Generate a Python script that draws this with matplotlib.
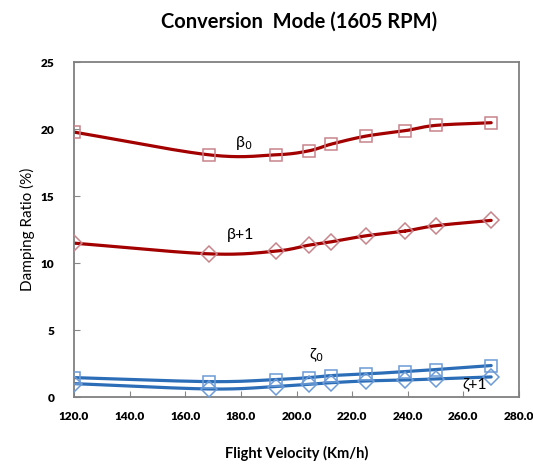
import numpy as np
import matplotlib
matplotlib.use('Agg')
import matplotlib.pyplot as plt

plt.rcParams['font.family'] = ['Lato', 'DejaVu Sans']

# flight velocity (km/h) at each analysis point
velocity = [120, 168.5, 192.5, 204.5, 212.5, 225, 239, 250, 270]

beta0 = [19.8, 18.1, 18.1, 18.4, 18.9, 19.5, 19.9, 20.3, 20.5]
beta1 = [11.5, 10.7, 10.9, 11.35, 11.6, 12.05, 12.4, 12.8, 13.2]
zeta0 = [1.45, 1.15, 1.3, 1.45, 1.6, 1.72, 1.9, 2.05, 2.35]
zeta1 = [1.0, 0.6, 0.78, 0.95, 1.07, 1.2, 1.27, 1.35, 1.5]

xticks = [120, 140, 160, 180, 200, 220, 240, 260, 280]
yticks = [0, 5, 10, 15, 20, 25]


def smooth(x, y, n=30):
    # catmull-rom through the points, like a spreadsheet "smoothed line"
    sx, sy = 160.0, 25.0
    p = np.column_stack([np.asarray(x) / sx, np.asarray(y) / sy])
    p = np.vstack([2 * p[0] - p[1], p, 2 * p[-1] - p[-2]])
    out = []
    for i in range(1, len(p) - 2):
        p0, p1, p2, p3 = p[i - 1], p[i], p[i + 1], p[i + 2]
        t = np.linspace(0, 1, n)[:, None]
        seg = 0.5 * ((2 * p1) + (-p0 + p2) * t
                     + (2 * p0 - 5 * p1 + 4 * p2 - p3) * t ** 2
                     + (-p0 + 3 * p1 - 3 * p2 + p3) * t ** 3)
        out.append(seg)
    out = np.vstack(out)
    return out[:, 0] * sx, out[:, 1] * sy


fig = plt.figure(figsize=(5.33, 4.65), dpi=100)
ax = fig.add_axes([74 / 533, 1 - 397 / 465, 445 / 533, 334.5 / 465])

red_line, red_mark = '#A30000', '#C8848C'
blue_line, blue_mark = '#2C6DB8', '#6C9BD6'

series = [
    (beta0, red_line, red_mark, 's'),
    (beta1, red_line, red_mark, 'D'),
    (zeta0, blue_line, blue_mark, 's'),
    (zeta1, blue_line, blue_mark, 'D'),
]
for vals, lc, mc, mk in series:
    sx, sy = smooth(velocity, vals)
    ax.plot(sx, sy, color=lc, lw=2.3, solid_capstyle='round', zorder=2)
    ax.plot(velocity, vals, ls='none', marker=mk, ms=8.5 if mk == 's' else 8,
            mfc='none', mec=mc, mew=1.1, zorder=3)

ax.text(181, 19.0, r'β$_0$', fontsize=11.5, ha='center', va='center')
ax.text(180, 12.1, 'β+1', fontsize=11.5, ha='center', va='center')
ax.text(207, 3.15, r'ζ$_0$', fontsize=11.5, ha='center', va='center')
ax.text(264, 0.95, 'ζ+1', fontsize=11.5, ha='center', va='center')

ax.set_xlim(120, 280)
ax.set_ylim(0, 25)
ax.set_xticks(xticks)
ax.set_xticklabels([f'{v:.1f}' for v in xticks], fontweight='heavy', fontsize=8.6)
ax.set_yticks(yticks)
ax.set_yticklabels([str(v) for v in yticks], fontweight='heavy', fontsize=8.6)
ax.tick_params(direction='in', length=4, color='#888888', width=0.8)
ax.tick_params(axis='x', pad=10)
ax.tick_params(axis='y', pad=14)
for s in ax.spines.values():
    s.set_color('#808080')
    s.set_linewidth(1.3)

ax.set_xlabel('Flight Velocity (Km/h)', fontsize=10.5, fontweight='bold', labelpad=17)
ax.set_ylabel('Damping Ratio (%)', fontsize=11, labelpad=4)
fig.text(0.562, 1 - 22 / 465, 'Conversion  Mode (1605 RPM)', fontsize=14.5,
         fontweight='bold', ha='center', va='center')

fig.savefig('out.png', dpi=100)
